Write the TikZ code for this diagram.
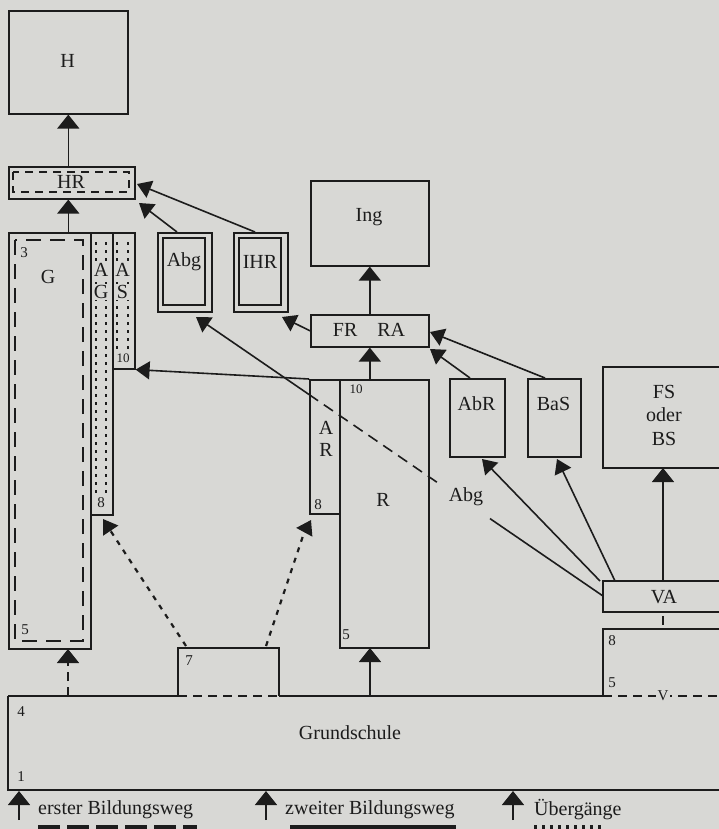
\documentclass[tikz,border=0pt]{standalone}
\usepackage{fontspec}
\setmainfont{Liberation Serif}
\usetikzlibrary{arrows.meta,calc}
\definecolor{bgc}{RGB}{216,216,213}
\definecolor{ink}{RGB}{28,28,28}
\tikzset{
 box/.style={draw=ink, line width=1.6pt, rectangle, inner sep=0pt, anchor=north west},
 lbl/.style={text=ink, font=\fontsize{20}{23}\selectfont, inner sep=0pt},
 num/.style={text=ink, font=\fontsize{15}{17}\selectfont, inner sep=0pt},
 conn/.style={draw=ink, line width=1.6pt},
 arr/.style={conn, -{Triangle[length=14pt,width=18pt]}},
 varr/.style={conn, -{Triangle[length=14pt,width=22pt]}},
 dotl/.style={conn, line width=2.2pt, dash pattern=on 5pt off 6pt},
 dashl/.style={conn, dash pattern=on 9pt off 6pt},
 agdots/.style={draw=ink, line width=2pt, dash pattern=on 3pt off 5pt},
}
\begin{document}
\begin{tikzpicture}[x=1pt,y=-1pt]
\useasboundingbox (0,0) rectangle (719,829);
\fill[bgc] (0,0) rectangle (719,829);

% --- top: H and HR
\node[box, minimum width=119pt, minimum height=103pt] (H) at (8,10) {};
\node[lbl] (Hl) at (67.5,61) {H};
\node[box, minimum width=126pt, minimum height=32pt] (HR) at (8,166) {};
\draw[ink, line width=1.8pt, dash pattern=on 8pt off 6pt] (13,172) rectangle (129,192);
\node[lbl] (HRl) at (71,182) {HR};

% --- G, AG, AS
\node[box, minimum width=82pt, minimum height=416pt] (G) at (8,232) {};
\draw[ink, line width=2.2pt, dash pattern=on 15pt off 9pt] (15,240) rectangle (83,641);
\node[lbl] (Gl) at (48,277) {G};
\node[num] (G3) at (24,253) {3};
\node[num] (G5) at (25,630) {5};
\node[box, minimum width=22pt, minimum height=282pt] (AG) at (90,232) {};
\node[box, minimum width=22pt, minimum height=136pt] (AS) at (112,232) {};
\draw[agdots] (96,242) -- (96,495);
\draw[agdots] (106,242) -- (106,495);
\draw[agdots] (117,242) -- (117,350);
\draw[agdots] (128,242) -- (128,350);
\node[lbl, fill=bgc, inner sep=1pt] (AGa) at (101,270) {A};
\node[lbl, fill=bgc, inner sep=1pt] (AGg) at (101,292) {G};
\node[lbl, fill=bgc, inner sep=1pt] (ASa) at (122.5,270) {A};
\node[lbl, fill=bgc, inner sep=1pt] (ASs) at (122.5,292) {S};
\node[num, fill=bgc, inner sep=1pt] (AG8) at (101,503) {8};
\node[num, fill=bgc, inner sep=1pt, font=\fontsize{13}{15}\selectfont] (AS10) at (123,358) {10};

% --- Abg, IHR
\node[box, minimum width=54pt, minimum height=79pt] (Abg) at (157,232) {};
\draw[ink, line width=2.4pt] (163,238) rectangle (205,305);
\node[lbl] (Abgl) at (184,262) {Abg};
\node[box, minimum width=54pt, minimum height=79pt] (IHR) at (233,232) {};
\draw[ink, line width=2.4pt] (239,238) rectangle (281,305);
\node[lbl] (IHRl) at (260,262) {IHR};

% --- Ing, FR RA, R
\node[box, minimum width=118pt, minimum height=85pt] (Ing) at (310,180) {};
\node[lbl] (Ingl) at (369,217) {Ing};
\node[box, minimum width=118pt, minimum height=32pt] (FRRA) at (310,314) {};
\node[lbl] (FRRAl) at (369,330) {FR\quad RA};
\node[box, minimum width=30pt, minimum height=134pt] (AR) at (309,379) {};
\node[box, minimum width=89pt, minimum height=268pt] (R) at (339,379) {};
\node[lbl] (ARa) at (326,428) {A};
\node[lbl] (ARr) at (326,450) {R};
\node[num] (AR8) at (318,505) {8};
\node[num, font=\fontsize{13}{15}\selectfont] (R10) at (356,389) {10};
\node[lbl] (Rl) at (383,500) {R};
\node[num] (R5) at (346,635) {5};

% --- AbR, BaS
\node[box, minimum width=55pt, minimum height=78pt] (AbR) at (449,378) {};
\node[lbl] (AbRl) at (476.5,404) {AbR};
\node[box, minimum width=53pt, minimum height=78pt] (BaS) at (527,378) {};
\node[lbl] (BaSl) at (553.5,404) {BaS};

% --- right side open boxes
\draw[conn] (719,367) -- (603,367) -- (603,468) -- (719,468);
\node[lbl] (FSa) at (664,392) {FS};
\node[lbl] (FSb) at (664,415) {oder};
\node[lbl] (FSc) at (664,439) {BS};
\draw[conn] (719,581) -- (603,581) -- (603,612) -- (719,612);
\node[lbl] (VA) at (664,597) {VA};
\draw[conn] (719,629) -- (603,629) -- (603,696);
\node[num] (S8) at (612,641) {8};
\node[num] (S5) at (612,683) {5};

% --- Grundschule and 7
\draw[conn] (8,696) -- (8,790) -- (719,790);
\draw[conn] (8,696) -- (178,696);
\draw[conn] (279,696) -- (603,696);
\draw[dashl] (178,696) -- (279,696);
\draw[dashl] (603,696) -- (719,696);
\node[num, fill=bgc, inner sep=1.5pt] (V) at (663,696) {V};
\draw[conn] (178,696) -- (178,648) -- (279,648) -- (279,696);
\node[num] (N7) at (189,661) {7};
\node[lbl] (GS) at (350,733) {Grundschule};
\node[num] (N4) at (21,712) {4};
\node[num] (N1) at (21,777) {1};

% --- vertical arrows
\draw[varr] (H.south |- HR.north) -- (H.south);
\draw[varr] (H.south |- G.north) -- (H.south |- HR.south);
\draw[varr] (FRRA.north) -- (Ing.south);
\draw[varr] (FRRA.south |- R.north) -- (FRRA.south);
\draw[varr] (370,696) -- (370,648);
\draw[conn, dash pattern=on 9pt off 6pt] (68,696) -- (68,664);
\draw[varr] (68,665) -- (68,649);
\draw[varr] (663,581) -- (663,468);
\draw[conn] (663,616) -- (663,625);

% --- diagonal arrows
\coordinate (IHRtop) at (255,232);
\coordinate (Abgtop) at (177,232);
\draw[arr] (IHRtop) -- (137,184);
\draw[arr] (Abgtop) -- (139,203);
\draw[arr] (FRRA.west) -- (282,317);
\draw[arr] (AR.north west) -- (AS.south east);
\coordinate (BaStop) at (545,378);
\coordinate (AbRtop) at (470,378);
\draw[arr] (BaStop) -- (430,332);
\draw[arr] (AbRtop) -- (430,349);
\coordinate (VA1) at (600,581);
\coordinate (VA2) at (615,581);
\coordinate (VA3) at (603,596);
\draw[arr] (VA1) -- (482,459);
\draw[arr] (VA2) -- (557,459);
% Abg line through R
\draw[arr] (309,394.5) -- (196,317);
\draw[conn, dash pattern=on 11pt off 7pt] (309,394.5) -- (442,485.7);
\draw[conn] (VA3) -- (490,518.6);
\node[lbl] (AbgL) at (466,497) {Abg};
% dotted from 7
\draw[dotl] (186,646) -- (110,530);
\draw[arr] (111,531) -- (103,519);
\draw[dotl] (266,646) -- (305,530);
\draw[arr] (305,531) -- (311,520);

% --- legend
\draw[varr] (19,820) -- (19,791);
\draw[varr] (266,820) -- (266,791);
\draw[varr] (513,820) -- (513,791);
\node[lbl, anchor=west] (L1) at (38,810) {erster Bildungsweg};
\node[lbl, anchor=west] (L2) at (285,810) {zweiter Bildungsweg};
\node[lbl, anchor=west] (L3) at (534,810) {Übergänge};
\begin{scope}
\clip (0,0) rectangle (719,829);
\draw[ink, line width=6pt, dash pattern=on 22pt off 7pt] (38,828) -- (197,828);
\draw[ink, line width=6pt] (290,828) -- (456,828);
\draw[ink, line width=6pt, dash pattern=on 3pt off 5pt] (534,828) -- (601,828);
\end{scope}
\end{tikzpicture}
\end{document}
